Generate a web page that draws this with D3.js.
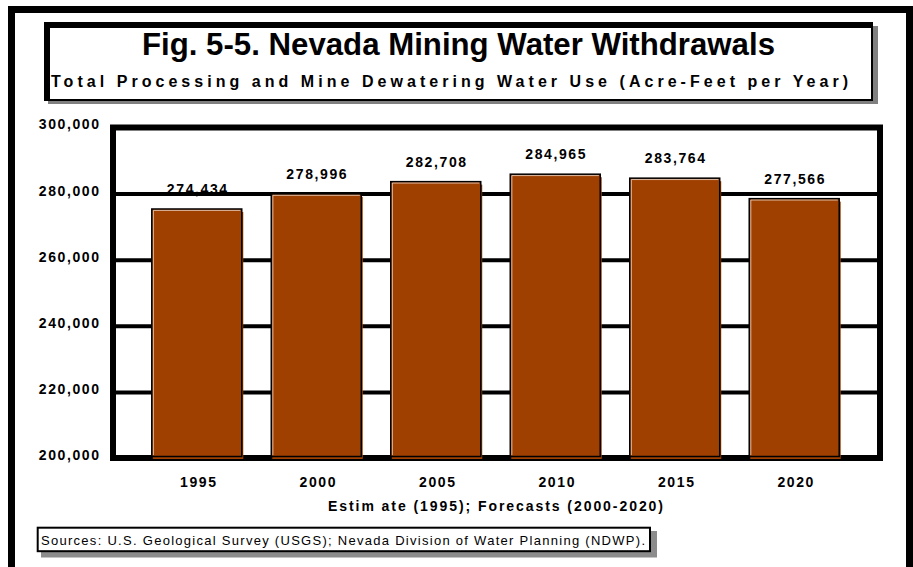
<!DOCTYPE html>
<html>
<head>
<meta charset="utf-8">
<script src="https://cdn.jsdelivr.net/npm/d3@7"></script>
<style>
  html, body { margin: 0; padding: 0; background: #fff; }
  svg { display: block; }
  text { font-family: "Liberation Sans", Arial, Helvetica, sans-serif; fill: #000; }
</style>
</head>
<body>
<svg id="chart" width="913" height="567"></svg>
<script>
// Nevada mining water withdrawals, acre-feet per year
const years = ["1995", "2000", "2005", "2010", "2015", "2020"];
const withdrawals = [274434, 278996, 282708, 284965, 283764, 277566];
const yTicks = [200000, 220000, 240000, 260000, 280000, 300000];

const titleText = "Fig. 5-5. Nevada Mining Water Withdrawals";
const subtitleText = "Total Processing and Mine Dewatering Water Use (Acre-Feet per Year)";
const xAxisTitle = "Estim ate (1995); Forecasts (2000-2020)";
const sourceText = "Sources:  U.S. Geological Survey (USGS); Nevada Division of Water Planning (NDWP).";

const barColor = "#a04000";
const fmt = d3.format(",");

const svg = d3.select("#chart");

// outer page frame (open at the bottom)
svg.append("path")
  .attr("d", "M11.5,600 V9.5 H909.5 V600")
  .attr("fill", "none").attr("stroke", "#000").attr("stroke-width", 7);

// title box with drop shadow
svg.append("rect").attr("x", 48).attr("y", 26).attr("width", 830).attr("height", 78).attr("fill", "#808080");
svg.append("rect").attr("x", 44).attr("y", 22).attr("width", 829).attr("height", 79).attr("fill", "#000");
svg.append("rect").attr("x", 50).attr("y", 28).attr("width", 821).attr("height", 71).attr("fill", "#fff");

svg.append("text")
  .attr("x", 458.5).attr("y", 55)
  .attr("text-anchor", "middle")
  .attr("font-size", 31).attr("font-weight", "bold")
  .attr("textLength", 633).attr("lengthAdjust", "spacingAndGlyphs")
  .text(titleText);

svg.append("text")
  .attr("x", 51).attr("y", 87)
  .attr("font-size", 16).attr("font-weight", "bold")
  .attr("textLength", 797).attr("lengthAdjust", "spacing")
  .text(subtitleText);

// plot area
const plot = { left: 113, right: 880, top: 127.5, bottom: 458 };

const x = d3.scaleBand()
  .domain(years)
  .range([plot.left, plot.right])
  .paddingInner(0.247)
  .paddingOuter(0.333);

const y = d3.scaleLinear()
  .domain([200000, 300000])
  .range([plot.bottom, plot.top]);

// frame of the plot area
svg.append("rect")
  .attr("x", plot.left).attr("y", plot.top)
  .attr("width", plot.right - plot.left).attr("height", plot.bottom - plot.top)
  .attr("fill", "#fff").attr("stroke", "#000").attr("stroke-width", 6);

// value labels
svg.append("g").selectAll("text")
  .data(withdrawals)
  .join("text")
  .attr("x", (d, i) => x(years[i]) + x.bandwidth() / 2 - 1)
  .attr("y", d => y(d) - 18)
  .attr("text-anchor", "middle")
  .attr("font-size", 14).attr("font-weight", "bold")
  .attr("letter-spacing", "1.6px")
  .attr("dx", 1)
  .text(d => fmt(d));

// horizontal gridlines
const grid = svg.append("g")
  .attr("transform", `translate(${plot.left},0)`)
  .call(d3.axisLeft(y).tickValues(yTicks.filter(t => t > 200000 && t < 300000))
    .tickSize(-(plot.right - plot.left)).tickFormat(""));
grid.select(".domain").remove();
grid.selectAll("line").attr("stroke", "#000").attr("stroke-width", 4);

// bars: an offset back face at the data position, framed front face on top
const bars = svg.append("g").selectAll("g")
  .data(withdrawals)
  .join("g");

bars.append("rect")
  .attr("x", (d, i) => x(years[i]))
  .attr("y", d => y(d))
  .attr("width", x.bandwidth() + 0.5)
  .attr("height", d => plot.bottom + 1 - y(d))
  .attr("fill", barColor);

bars.append("rect")
  .attr("x", (d, i) => x(years[i]) - 1)
  .attr("y", d => y(d) - 3)
  .attr("width", x.bandwidth())
  .attr("height", d => plot.bottom - 1.5 - (y(d) - 3))
  .attr("fill", barColor)
  .attr("stroke", "#000").attr("stroke-width", 1.5);

bars.append("path")
  .attr("d", (d, i) => {
    const x0 = x(years[i]) + 0.6, y0 = y(d) - 1.6;
    return `M${x0},${plot.bottom - 3} V${y0} H${x0 + x.bandwidth() - 3}`;
  })
  .attr("fill", "none").attr("stroke", "#fff").attr("stroke-width", 0.8)
  .attr("opacity", 0.8);

// y axis labels
const yAxis = svg.append("g")
  .attr("transform", `translate(${plot.left},0)`)
  .call(d3.axisLeft(y).tickValues(yTicks).tickSize(0).tickFormat(fmt));
yAxis.select(".domain").remove();
yAxis.selectAll("text")
  .attr("x", 99 - plot.left + 1.6)
  .attr("dy", "0.1em")
  .attr("font-size", 14).attr("font-weight", "bold")
  .attr("letter-spacing", "1.6px")
  .attr("font-family", null)
  .attr("fill", "#000");

// x axis labels
const xAxis = svg.append("g")
  .attr("transform", `translate(0,${plot.bottom})`)
  .call(d3.axisBottom(x).tickSize(0));
xAxis.select(".domain").remove();
xAxis.selectAll("text")
  .attr("y", 29).attr("dy", 0)
  .attr("dx", 1)
  .attr("font-size", 14).attr("font-weight", "bold")
  .attr("letter-spacing", "1.6px")
  .attr("font-family", null)
  .attr("fill", "#000");

// x axis title
svg.append("text")
  .attr("x", 328).attr("y", 511)
  .attr("font-size", 14).attr("font-weight", "bold")
  .attr("textLength", 335).attr("lengthAdjust", "spacing")
  .text(xAxisTitle);

// sources box with drop shadow
svg.append("rect").attr("x", 41).attr("y", 531).attr("width", 616).attr("height", 26.5).attr("fill", "#8c8c8c");
svg.append("rect")
  .attr("x", 37.7).attr("y", 527.7).attr("width", 612.3).attr("height", 23.5)
  .attr("fill", "#fff").attr("stroke", "#000").attr("stroke-width", 2);
svg.append("text")
  .attr("x", 41).attr("y", 545)
  .attr("font-size", 13)
  .attr("textLength", 604).attr("lengthAdjust", "spacing")
  .text(sourceText);
</script>
</body>
</html>
